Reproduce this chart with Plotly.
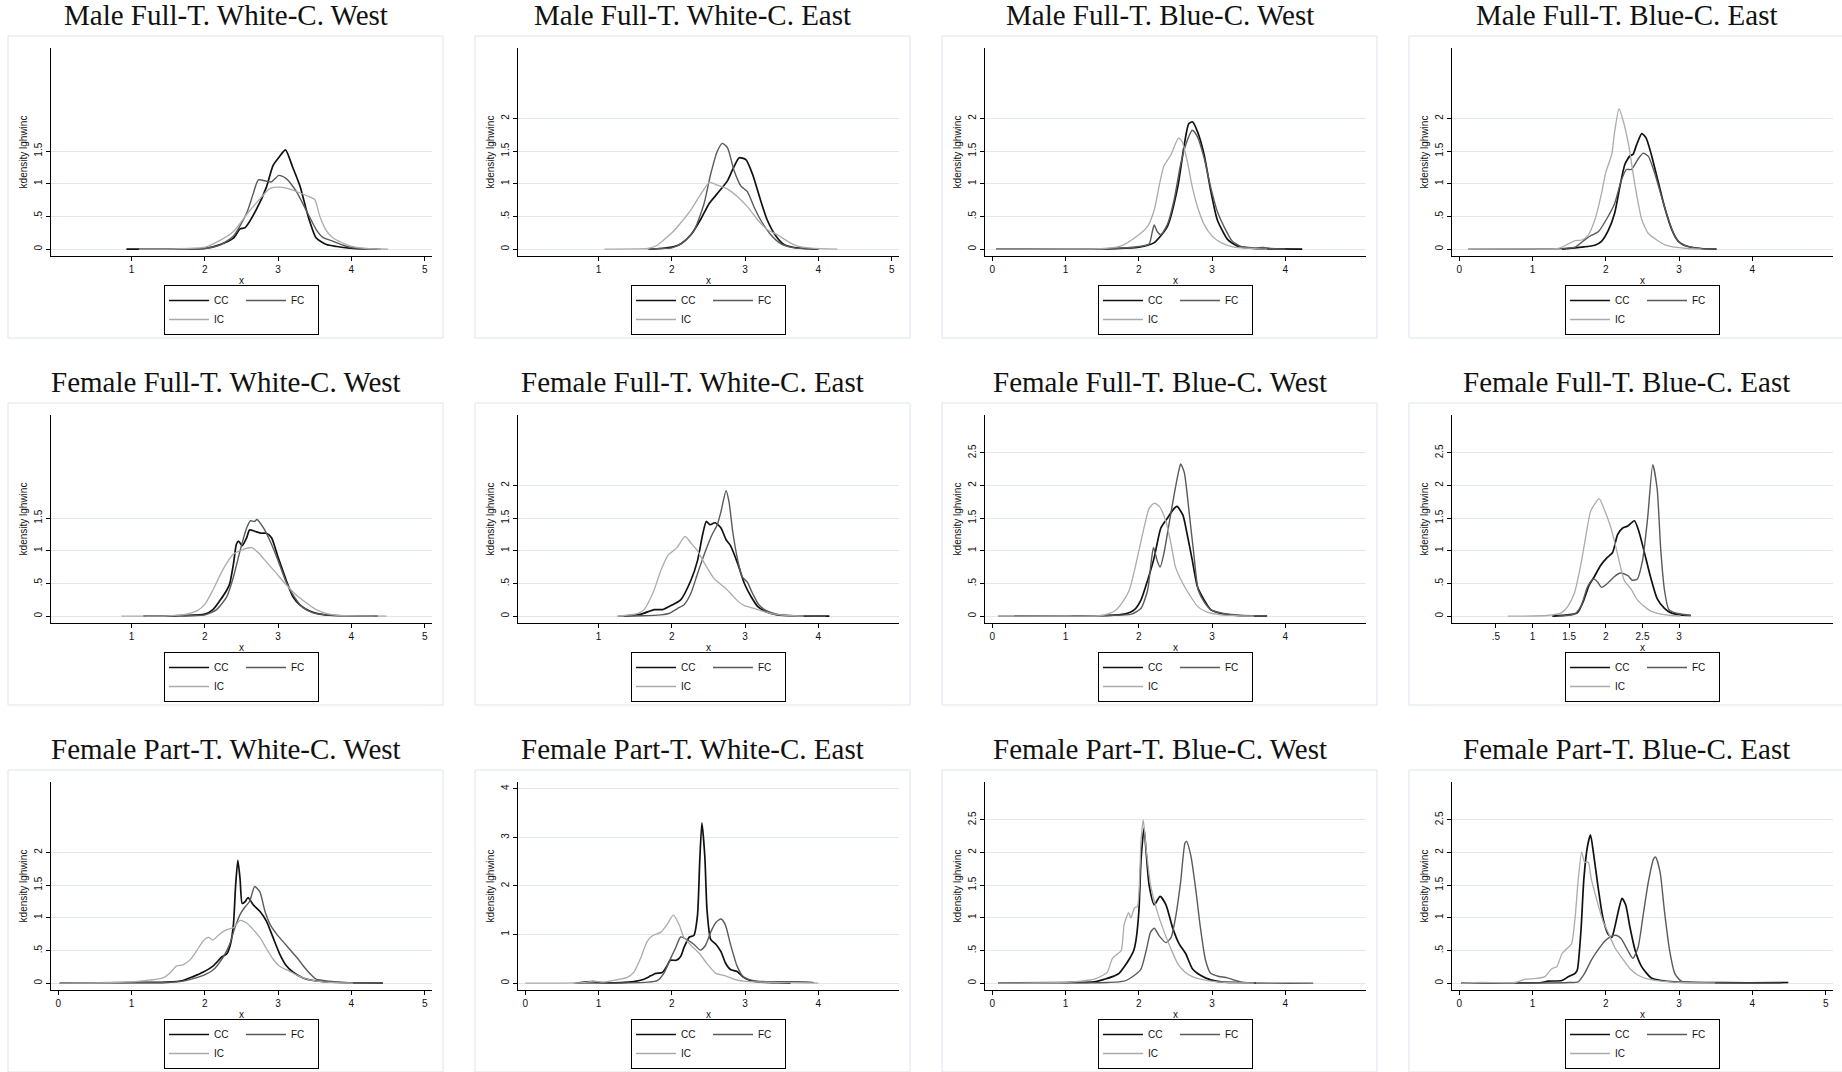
import plotly.graph_objects as go

# ---------------- data ----------------
titles = ["Male Full-T. White-C. West", "Male Full-T. White-C. East",
          "Male Full-T. Blue-C. West", "Male Full-T. Blue-C. East",
          "Female Full-T. White-C. West", "Female Full-T. White-C. East",
          "Female Full-T. Blue-C. West", "Female Full-T. Blue-C. East",
          "Female Part-T. White-C. West", "Female Part-T. White-C. East",
          "Female Part-T. Blue-C. West", "Female Part-T. Blue-C. East"]
series_names = ["CC", "FC", "IC"]

x_ticks = [[1, 2, 3, 4, 5], [1, 2, 3, 4, 5], [0, 1, 2, 3, 4], [0, 1, 2, 3, 4],
           [1, 2, 3, 4, 5], [1, 2, 3, 4], [0, 1, 2, 3, 4], [0.5, 1, 1.5, 2, 2.5, 3],
           [0, 1, 2, 3, 4, 5], [0, 1, 2, 3, 4], [0, 1, 2, 3, 4], [0, 1, 2, 3, 4, 5]]
y_ticks = [[0, 0.5, 1, 1.5], [0, 0.5, 1, 1.5, 2], [0, 0.5, 1, 1.5, 2], [0, 0.5, 1, 1.5, 2],
           [0, 0.5, 1, 1.5], [0, 0.5, 1, 1.5, 2], [0, 0.5, 1, 1.5, 2, 2.5], [0, 0.5, 1, 1.5, 2, 2.5],
           [0, 0.5, 1, 1.5, 2], [0, 1, 2, 3, 4], [0, 0.5, 1, 1.5, 2, 2.5], [0, 0.5, 1, 1.5, 2, 2.5]]
y_max = [3.08, 3.08, 3.08, 3.08, 3.08, 3.08, 3.08, 3.08, 3.08, 4.14, 3.08, 3.08]

# Panel 1
p1_cc_x = [0.93, 1.1, 1.5, 2.0, 2.2, 2.39, 2.48, 2.55, 2.7, 2.84, 2.93, 3.02, 3.1, 3.2, 3.3, 3.41, 3.52, 3.66, 3.8, 3.98, 4.2, 4.35]
p1_cc_y = [0, 0, 0.002, 0.01, 0.066, 0.17, 0.31, 0.33, 0.6, 0.95, 1.28, 1.42, 1.52, 1.25, 0.96, 0.5, 0.17, 0.07, 0.04, 0.015, 0.003, 0]
p1_fc_x = [1.1, 1.5, 2.0, 2.2, 2.39, 2.57, 2.66, 2.73, 2.84, 2.91, 3.01, 3.11, 3.25, 3.39, 3.52, 3.61, 3.75, 3.89, 4.02, 4.2, 4.4]
p1_fc_y = [0, 0.002, 0.01, 0.06, 0.2, 0.55, 0.85, 1.06, 1.04, 1.03, 1.13, 1.08, 0.88, 0.58, 0.3, 0.18, 0.12, 0.06, 0.02, 0.005, 0]
p1_ic_x = [1.1, 1.6, 2.0, 2.2, 2.39, 2.57, 2.75, 2.89, 3.02, 3.16, 3.3, 3.43, 3.5, 3.57, 3.66, 3.75, 3.98, 4.2, 4.5]
p1_ic_y = [0, 0.005, 0.03, 0.13, 0.27, 0.53, 0.77, 0.93, 0.95, 0.92, 0.86, 0.8, 0.76, 0.5, 0.28, 0.17, 0.05, 0.01, 0]

# Panel 2
p2_cc_x = [1.69, 1.85, 2.0, 2.12, 2.26, 2.4, 2.51, 2.62, 2.76, 2.83, 2.92, 3.01, 3.1, 3.21, 3.3, 3.42, 3.53, 3.67, 3.9, 4.0]
p2_cc_y = [0, 0.01, 0.03, 0.08, 0.22, 0.47, 0.7, 0.85, 1.05, 1.22, 1.4, 1.37, 1.15, 0.75, 0.45, 0.2, 0.07, 0.025, 0.005, 0]
p2_fc_x = [1.67, 1.85, 2.0, 2.15, 2.3, 2.44, 2.53, 2.62, 2.69, 2.76, 2.85, 2.94, 3.03, 3.12, 3.21, 3.35, 3.49, 3.67, 4.0]
p2_fc_y = [0, 0.01, 0.02, 0.1, 0.28, 0.7, 1.15, 1.5, 1.62, 1.55, 1.2, 0.97, 0.88, 0.65, 0.45, 0.22, 0.08, 0.02, 0]
p2_ic_x = [1.08, 1.5, 1.67, 1.8, 1.9, 2.0, 2.12, 2.26, 2.4, 2.51, 2.62, 2.76, 2.9, 3.03, 3.17, 3.3, 3.44, 3.58, 3.71, 3.9, 4.26]
p2_ic_y = [0, 0.003, 0.01, 0.06, 0.15, 0.25, 0.4, 0.6, 0.85, 1.02, 0.98, 0.92, 0.8, 0.65, 0.45, 0.3, 0.22, 0.12, 0.05, 0.015, 0]

# Panel 3
p3_cc_x = [0.05, 1.0, 1.57, 2.0, 2.21, 2.39, 2.53, 2.62, 2.68, 2.73, 2.8, 2.89, 2.98, 3.07, 3.21, 3.34, 3.57, 3.8, 4.23]
p3_cc_y = [0, 0, 0.005, 0.03, 0.1, 0.35, 0.95, 1.6, 1.92, 1.95, 1.8, 1.45, 0.9, 0.45, 0.15, 0.05, 0.01, 0.003, 0]
p3_fc_x = [0.05, 1.0, 1.57, 2.0, 2.14, 2.18, 2.21, 2.25, 2.3, 2.39, 2.48, 2.57, 2.64, 2.73, 2.8, 2.89, 2.98, 3.07, 3.16, 3.27, 3.39, 3.57, 3.7, 3.8, 4.0]
p3_fc_y = [0, 0, 0.005, 0.04, 0.08, 0.25, 0.37, 0.27, 0.22, 0.38, 0.75, 1.3, 1.6, 1.82, 1.72, 1.4, 0.95, 0.58, 0.35, 0.13, 0.04, 0.02, 0.025, 0.01, 0]
p3_ic_x = [0.05, 1.0, 1.53, 1.76, 1.94, 2.12, 2.21, 2.27, 2.34, 2.44, 2.54, 2.59, 2.66, 2.73, 2.8, 2.89, 3.0, 3.12, 3.3, 3.75]
p3_ic_y = [0, 0.002, 0.01, 0.05, 0.17, 0.35, 0.6, 0.93, 1.27, 1.45, 1.7, 1.65, 1.35, 0.95, 0.65, 0.38, 0.2, 0.1, 0.03, 0]

# Panel 4
p4_cc_x = [1.4, 1.67, 1.85, 1.94, 2.03, 2.12, 2.19, 2.26, 2.33, 2.37, 2.42, 2.49, 2.55, 2.62, 2.71, 2.8, 2.9, 2.99, 3.12, 3.3, 3.51]
p4_cc_y = [0, 0.03, 0.06, 0.12, 0.28, 0.55, 0.95, 1.3, 1.43, 1.45, 1.6, 1.77, 1.7, 1.45, 1.05, 0.65, 0.3, 0.12, 0.04, 0.01, 0]
p4_fc_x = [0.12, 1.0, 1.4, 1.58, 1.72, 1.8, 1.9, 2.03, 2.12, 2.21, 2.28, 2.35, 2.44, 2.51, 2.58, 2.67, 2.76, 2.85, 2.94, 3.03, 3.21, 3.51]
p4_fc_y = [0, 0.002, 0.01, 0.03, 0.15, 0.21, 0.27, 0.5, 0.7, 1.05, 1.22, 1.22, 1.38, 1.47, 1.42, 1.15, 0.8, 0.47, 0.2, 0.08, 0.02, 0]
p4_ic_x = [0.12, 0.76, 1.35, 1.49, 1.58, 1.67, 1.76, 1.85, 1.94, 2.0, 2.08, 2.12, 2.18, 2.24, 2.31, 2.4, 2.49, 2.58, 2.67, 2.8, 2.94, 3.12, 3.3]
p4_ic_y = [0, 0.005, 0.01, 0.08, 0.13, 0.14, 0.22, 0.45, 0.85, 1.18, 1.45, 1.8, 2.15, 1.95, 1.6, 0.96, 0.45, 0.24, 0.16, 0.07, 0.03, 0.01, 0]

# Panel 5
p5_cc_x = [1.16, 1.6, 2.0, 2.11, 2.2, 2.3, 2.34, 2.39, 2.43, 2.46, 2.51, 2.57, 2.61, 2.68, 2.77, 2.84, 2.91, 3.0, 3.11, 3.2, 3.3, 3.43, 3.57, 3.75, 4.0, 4.36]
p5_cc_y = [0, 0.005, 0.03, 0.1, 0.23, 0.4, 0.5, 0.8, 1.1, 1.15, 1.08, 1.2, 1.32, 1.3, 1.27, 1.27, 1.2, 0.9, 0.55, 0.3, 0.17, 0.08, 0.03, 0.01, 0.003, 0]
p5_fc_x = [1.2, 1.6, 2.0, 2.16, 2.3, 2.39, 2.48, 2.57, 2.62, 2.68, 2.71, 2.8, 2.89, 3.0, 3.11, 3.23, 3.34, 3.48, 3.66, 4.0, 4.3]
p5_fc_y = [0, 0.005, 0.02, 0.1, 0.3, 0.6, 1.0, 1.35, 1.46, 1.45, 1.48, 1.35, 1.15, 0.85, 0.52, 0.28, 0.13, 0.05, 0.02, 0.005, 0]
p5_ic_x = [0.86, 1.5, 1.75, 1.89, 2.0, 2.11, 2.25, 2.39, 2.52, 2.64, 2.73, 2.84, 2.98, 3.11, 3.25, 3.39, 3.52, 3.66, 3.84, 4.1, 4.48]
p5_ic_y = [0, 0.005, 0.03, 0.08, 0.18, 0.4, 0.72, 0.95, 1.02, 1.05, 0.97, 0.83, 0.65, 0.48, 0.32, 0.2, 0.1, 0.04, 0.01, 0.003, 0]

# Panel 6
p6_cc_x = [1.35, 1.58, 1.76, 1.87, 2.0, 2.12, 2.26, 2.35, 2.42, 2.47, 2.52, 2.59, 2.67, 2.74, 2.8, 2.9, 2.99, 3.08, 3.17, 3.3, 3.44, 3.67, 4.15]
p6_cc_y = [0, 0.03, 0.1, 0.1, 0.17, 0.25, 0.55, 0.85, 1.25, 1.45, 1.4, 1.43, 1.35, 1.17, 1.08, 0.8, 0.5, 0.3, 0.15, 0.06, 0.02, 0.005, 0]
p6_fc_x = [1.26, 1.6, 1.85, 1.96, 2.08, 2.17, 2.26, 2.35, 2.46, 2.55, 2.62, 2.67, 2.74, 2.78, 2.83, 2.9, 2.96, 3.03, 3.1, 3.19, 3.3, 3.49, 4.1]
p6_fc_y = [0, 0.005, 0.02, 0.04, 0.12, 0.18, 0.35, 0.65, 1.0, 1.25, 1.4, 1.6, 1.92, 1.75, 1.3, 0.85, 0.6, 0.52, 0.35, 0.17, 0.08, 0.02, 0]
p6_ic_x = [1.26, 1.53, 1.62, 1.74, 1.85, 1.94, 2.07, 2.18, 2.26, 2.35, 2.46, 2.58, 2.71, 2.8, 2.9, 2.99, 3.12, 3.26, 3.4, 3.58, 3.8]
p6_ic_y = [0, 0.04, 0.1, 0.35, 0.7, 0.92, 1.05, 1.22, 1.12, 1.0, 0.78, 0.57, 0.45, 0.35, 0.23, 0.16, 0.12, 0.07, 0.03, 0.01, 0]

# Panel 7
p7_cc_x = [0.3, 1.0, 1.57, 1.8, 1.94, 2.03, 2.12, 2.21, 2.3, 2.39, 2.46, 2.52, 2.6, 2.66, 2.73, 2.8, 2.89, 2.98, 3.12, 3.34, 3.75]
p7_cc_y = [0, 0.003, 0.01, 0.03, 0.1, 0.25, 0.55, 0.9, 1.35, 1.5, 1.62, 1.68, 1.55, 1.25, 0.85, 0.45, 0.25, 0.1, 0.04, 0.01, 0]
p7_fc_x = [0.08, 1.0, 1.6, 1.9, 2.03, 2.12, 2.17, 2.2, 2.25, 2.29, 2.34, 2.41, 2.48, 2.54, 2.57, 2.62, 2.69, 2.75, 2.81, 2.89, 2.98, 3.12, 3.34, 3.75]
p7_fc_y = [0, 0.002, 0.01, 0.03, 0.12, 0.4, 0.85, 1.05, 0.85, 0.75, 0.95, 1.4, 1.85, 2.2, 2.33, 2.2, 1.55, 0.95, 0.4, 0.22, 0.1, 0.05, 0.02, 0]
p7_ic_x = [0.08, 1.0, 1.49, 1.67, 1.78, 1.87, 1.94, 2.01, 2.08, 2.14, 2.21, 2.28, 2.37, 2.44, 2.5, 2.6, 2.69, 2.8, 2.93, 3.12, 3.57]
p7_ic_y = [0, 0.002, 0.01, 0.08, 0.22, 0.4, 0.7, 1.05, 1.4, 1.65, 1.73, 1.68, 1.45, 1.1, 0.75, 0.5, 0.33, 0.15, 0.06, 0.02, 0]

# Panel 8
p8_cc_x = [1.27, 1.48, 1.61, 1.7, 1.77, 1.84, 1.93, 2.02, 2.09, 2.16, 2.23, 2.3, 2.39, 2.45, 2.52, 2.61, 2.7, 2.8, 2.89, 3.02, 3.16]
p8_cc_y = [0, 0.02, 0.05, 0.25, 0.47, 0.6, 0.78, 0.9, 0.97, 1.25, 1.35, 1.38, 1.46, 1.3, 1.0, 0.6, 0.27, 0.12, 0.05, 0.02, 0.01]
p8_fc_x = [1.34, 1.57, 1.66, 1.75, 1.83, 1.89, 1.94, 2.02, 2.11, 2.2, 2.3, 2.36, 2.43, 2.5, 2.57, 2.64, 2.7, 2.75, 2.8, 2.86, 2.98, 3.16]
p8_fc_y = [0, 0.03, 0.15, 0.45, 0.57, 0.52, 0.44, 0.5, 0.6, 0.66, 0.62, 0.55, 0.57, 0.85, 1.5, 2.32, 1.95, 1.0, 0.4, 0.1, 0.04, 0.01]
p8_ic_x = [0.66, 1.2, 1.39, 1.48, 1.57, 1.66, 1.73, 1.79, 1.85, 1.91, 1.98, 2.07, 2.16, 2.25, 2.34, 2.43, 2.52, 2.61, 2.75, 2.89, 3.02]
p8_ic_y = [0, 0.01, 0.05, 0.15, 0.35, 0.8, 1.25, 1.6, 1.72, 1.8, 1.63, 1.35, 0.95, 0.55, 0.42, 0.25, 0.15, 0.08, 0.03, 0.01, 0]

# Panel 9
p9_cc_x = [0.02, 1.02, 1.48, 1.7, 1.84, 1.98, 2.11, 2.23, 2.3, 2.35, 2.39, 2.42, 2.45, 2.48, 2.51, 2.55, 2.59, 2.66, 2.75, 2.84, 2.93, 3.02, 3.11, 3.2, 3.34, 3.48, 3.66, 3.84, 4.43]
p9_cc_y = [0, 0.01, 0.015, 0.04, 0.1, 0.17, 0.26, 0.4, 0.45, 0.6, 0.9, 1.5, 1.88, 1.6, 1.22, 1.25, 1.31, 1.2, 1.1, 0.95, 0.7, 0.45, 0.27, 0.17, 0.08, 0.04, 0.02, 0.01, 0]
p9_fc_x = [0.02, 1.0, 1.5, 1.7, 1.84, 1.98, 2.11, 2.25, 2.34, 2.41, 2.48, 2.55, 2.61, 2.68, 2.75, 2.82, 2.89, 2.98, 3.11, 3.25, 3.39, 3.52, 3.7, 3.89, 4.43]
p9_fc_y = [0, 0.005, 0.01, 0.03, 0.07, 0.12, 0.2, 0.4, 0.6, 0.85, 1.05, 1.17, 1.25, 1.48, 1.4, 1.1, 0.9, 0.75, 0.58, 0.4, 0.2, 0.06, 0.03, 0.01, 0]
p9_ic_x = [0.02, 0.8, 1.11, 1.43, 1.52, 1.61, 1.7, 1.8, 1.89, 1.98, 2.05, 2.11, 2.2, 2.3, 2.39, 2.48, 2.57, 2.66, 2.75, 2.84, 2.93, 3.02, 3.16, 3.3, 3.43, 3.61, 4.02]
p9_ic_y = [0, 0.01, 0.03, 0.08, 0.15, 0.26, 0.28, 0.36, 0.5, 0.65, 0.7, 0.66, 0.75, 0.82, 0.85, 0.96, 0.92, 0.82, 0.7, 0.53, 0.37, 0.26, 0.18, 0.1, 0.05, 0.02, 0]

# Panel 10
p10_cc_x = [0.7, 0.93, 1.03, 1.3, 1.48, 1.62, 1.71, 1.78, 1.87, 1.92, 1.98, 2.06, 2.12, 2.17, 2.24, 2.3, 2.35, 2.38, 2.41, 2.45, 2.48, 2.53, 2.6, 2.67, 2.73, 2.8, 2.89, 2.98, 3.08, 3.21, 3.44, 3.62]
p10_cc_y = [0, 0.03, 0.01, 0.01, 0.03, 0.08, 0.15, 0.2, 0.22, 0.32, 0.47, 0.47, 0.55, 0.75, 0.95, 0.98, 1.4, 2.5, 3.3, 2.6, 1.5, 0.9, 0.8, 0.65, 0.42, 0.28, 0.24, 0.12, 0.05, 0.02, 0.01, 0]
p10_fc_x = [0.66, 1.39, 1.67, 1.8, 1.89, 1.98, 2.05, 2.12, 2.2, 2.3, 2.39, 2.46, 2.53, 2.6, 2.67, 2.73, 2.8, 2.89, 2.98, 3.12, 3.3, 3.53, 3.71, 3.9, 3.94]
p10_fc_y = [0, 0.005, 0.02, 0.05, 0.2, 0.5, 0.72, 0.95, 0.9, 0.8, 0.68, 0.78, 1.05, 1.25, 1.32, 1.2, 0.8, 0.35, 0.12, 0.05, 0.03, 0.03, 0.03, 0.02, 0.01]
p10_ic_x = [0.0, 0.8, 0.93, 1.07, 1.25, 1.39, 1.48, 1.57, 1.66, 1.73, 1.85, 1.94, 2.02, 2.1, 2.16, 2.26, 2.37, 2.48, 2.6, 2.71, 2.85, 2.98, 3.21, 3.49, 4.0]
p10_ic_y = [0, 0.01, 0.04, 0.02, 0.07, 0.12, 0.22, 0.5, 0.85, 0.97, 1.05, 1.22, 1.4, 1.2, 0.95, 0.78, 0.62, 0.4, 0.2, 0.16, 0.08, 0.04, 0.02, 0.01, 0]

# Panel 11
p11_cc_x = [0.08, 0.98, 1.39, 1.53, 1.64, 1.73, 1.8, 1.87, 1.93, 1.96, 2.0, 2.03, 2.07, 2.1, 2.14, 2.21, 2.29, 2.37, 2.46, 2.55, 2.64, 2.73, 2.84, 2.98, 3.12, 3.34, 3.6]
p11_cc_y = [0, 0.01, 0.02, 0.06, 0.1, 0.15, 0.25, 0.37, 0.5, 0.65, 1.1, 1.9, 2.37, 2.0, 1.5, 1.2, 1.33, 1.2, 0.85, 0.6, 0.45, 0.22, 0.12, 0.05, 0.02, 0.01, 0]
p11_fc_x = [0.08, 1.0, 1.57, 1.8, 1.94, 2.03, 2.1, 2.16, 2.21, 2.28, 2.37, 2.44, 2.5, 2.57, 2.63, 2.65, 2.71, 2.78, 2.84, 2.91, 2.98, 3.07, 3.21, 3.32, 3.43, 4.38]
p11_fc_y = [0, 0.003, 0.01, 0.03, 0.12, 0.22, 0.5, 0.78, 0.84, 0.72, 0.62, 0.7, 1.0, 1.55, 2.15, 2.17, 1.95, 1.4, 0.85, 0.35, 0.15, 0.11, 0.08, 0.04, 0.01, 0]
p11_ic_x = [0.08, 0.98, 1.21, 1.39, 1.51, 1.57, 1.64, 1.71, 1.76, 1.8, 1.86, 1.89, 1.94, 1.98, 2.03, 2.06, 2.1, 2.16, 2.25, 2.34, 2.44, 2.53, 2.62, 2.73, 2.84, 2.98, 3.21, 3.57]
p11_ic_y = [0, 0.01, 0.03, 0.06, 0.12, 0.17, 0.38, 0.45, 0.5, 0.9, 1.08, 1.0, 1.15, 1.17, 2.2, 2.5, 2.05, 1.5, 1.1, 0.8, 0.52, 0.3, 0.18, 0.1, 0.06, 0.03, 0.01, 0]

# Panel 12
p12_cc_x = [0.03, 1.12, 1.21, 1.4, 1.49, 1.58, 1.61, 1.66, 1.7, 1.75, 1.79, 1.83, 1.89, 1.96, 2.03, 2.08, 2.12, 2.18, 2.22, 2.27, 2.33, 2.4, 2.49, 2.62, 2.76, 2.94, 3.26, 3.94, 4.49]
p12_cc_y = [0, 0.01, 0.03, 0.04, 0.1, 0.15, 0.2, 0.8, 1.6, 2.1, 2.27, 2.0, 1.5, 1.0, 0.75, 0.7, 0.85, 1.15, 1.3, 1.2, 0.85, 0.5, 0.25, 0.08, 0.04, 0.02, 0.01, 0.005, 0.01]
p12_fc_x = [0.03, 1.2, 1.49, 1.62, 1.71, 1.8, 1.9, 1.99, 2.08, 2.15, 2.21, 2.3, 2.37, 2.44, 2.51, 2.58, 2.65, 2.68, 2.74, 2.8, 2.87, 2.94, 3.03, 3.26, 4.4]
p12_fc_y = [0, 0.003, 0.01, 0.02, 0.15, 0.35, 0.52, 0.65, 0.72, 0.73, 0.68, 0.5, 0.38, 0.55, 1.05, 1.55, 1.9, 1.93, 1.7, 1.1, 0.5, 0.15, 0.03, 0.01, 0]
p12_ic_x = [0.03, 0.3, 0.76, 0.9, 1.03, 1.17, 1.26, 1.33, 1.4, 1.46, 1.53, 1.58, 1.62, 1.67, 1.71, 1.76, 1.8, 1.87, 1.96, 2.03, 2.12, 2.21, 2.33, 2.44, 2.58, 2.76, 3.03, 3.49]
p12_ic_y = [0, 0.01, 0.01, 0.06, 0.07, 0.1, 0.22, 0.25, 0.45, 0.52, 0.6, 1.0, 1.55, 2.01, 1.85, 1.85, 1.6, 1.3, 0.95, 0.78, 0.55, 0.4, 0.22, 0.12, 0.06, 0.03, 0.01, 0]

panels = [
    ((p1_cc_x, p1_cc_y), (p1_fc_x, p1_fc_y), (p1_ic_x, p1_ic_y)),
    ((p2_cc_x, p2_cc_y), (p2_fc_x, p2_fc_y), (p2_ic_x, p2_ic_y)),
    ((p3_cc_x, p3_cc_y), (p3_fc_x, p3_fc_y), (p3_ic_x, p3_ic_y)),
    ((p4_cc_x, p4_cc_y), (p4_fc_x, p4_fc_y), (p4_ic_x, p4_ic_y)),
    ((p5_cc_x, p5_cc_y), (p5_fc_x, p5_fc_y), (p5_ic_x, p5_ic_y)),
    ((p6_cc_x, p6_cc_y), (p6_fc_x, p6_fc_y), (p6_ic_x, p6_ic_y)),
    ((p7_cc_x, p7_cc_y), (p7_fc_x, p7_fc_y), (p7_ic_x, p7_ic_y)),
    ((p8_cc_x, p8_cc_y), (p8_fc_x, p8_fc_y), (p8_ic_x, p8_ic_y)),
    ((p9_cc_x, p9_cc_y), (p9_fc_x, p9_fc_y), (p9_ic_x, p9_ic_y)),
    ((p10_cc_x, p10_cc_y), (p10_fc_x, p10_fc_y), (p10_ic_x, p10_ic_y)),
    ((p11_cc_x, p11_cc_y), (p11_fc_x, p11_fc_y), (p11_ic_x, p11_ic_y)),
    ((p12_cc_x, p12_cc_y), (p12_fc_x, p12_fc_y), (p12_ic_x, p12_ic_y)),
]

# ---------------- styling / layout ----------------
W, H = 1842, 1072
COL_PITCH = 467
ROW_TOPS = [48, 415, 782]
PLOT_W, PLOT_H = 381, 208
LEFT0 = 51
line_colors = {"CC": "#111111", "FC": "#5a5a5a", "IC": "#ababab"}
line_widths = {"CC": 1.7, "FC": 1.4, "IC": 1.3}
groups = {"CC": "g1", "IC": "g1", "FC": "g2"}
GRID = "#e1e7f0"
BOX = "#dde3ec"
SANS = "Liberation Sans, Arial, sans-serif"
SERIF = "Liberation Serif, Times New Roman, serif"


def fmt(v):
    s = f"{v:g}"
    return s[1:] if s.startswith("0.") else s


fig = go.Figure()
layout = dict(width=W, height=H, margin=dict(l=0, r=0, t=0, b=0),
              paper_bgcolor="white", plot_bgcolor="white", showlegend=True)
shapes, annotations = [], []

for i in range(12):
    r, c = divmod(i, 4)
    L = LEFT0 + COL_PITCH * c
    T = ROW_TOPS[r]
    k = "" if i == 0 else str(i + 1)
    leg = "legend" if i == 0 else f"legend{i + 1}"
    for name, (xs, ys) in zip(series_names, panels[i]):
        fig.add_trace(go.Scatter(
            x=xs, y=ys, mode="lines", name=name,
            line=dict(color=line_colors[name], width=line_widths[name],
                      shape="spline", smoothing=0.6),
            xaxis="x" + k, yaxis="y" + k, legend=leg, legendgroup=groups[name] + "_" + str(i),
            showlegend=True, hoverinfo="skip"))
    layout["xaxis" + k] = dict(
        domain=[L / W, (L + PLOT_W) / W], anchor="y" + k, range=[-0.1, 5.1],
        tickvals=x_ticks[i], ticktext=[fmt(v) for v in x_ticks[i]],
        showline=True, linecolor="black", linewidth=1, ticks="outside", ticklen=4,
        tickcolor="black", showgrid=False, zeroline=False,
        tickfont=dict(family=SANS, size=10, color="#111"),
        title=dict(text="x", font=dict(family=SANS, size=10, color="#111"), standoff=2))
    layout["yaxis" + k] = dict(
        domain=[1 - (T + PLOT_H) / H, 1 - T / H], anchor="x" + k,
        range=[-0.105 * y_max[i] / 3.08, y_max[i]],
        tickvals=y_ticks[i], ticktext=[fmt(v) for v in y_ticks[i]], tickangle=-90,
        showline=True, linecolor="black", linewidth=1, ticks="outside", ticklen=4,
        tickcolor="black", showgrid=True, gridcolor=GRID, gridwidth=1, zeroline=False,
        tickfont=dict(family=SANS, size=10, color="#111"),
        title=dict(text="kdensity lghwinc", font=dict(family=SANS, size=10, color="#111"),
                   standoff=3))
    layout[leg] = dict(
        x=(L + PLOT_W / 2) / W, xanchor="center", y=1 - (T + 237) / H, yanchor="top",
        orientation="h", traceorder="grouped", bordercolor="black", borderwidth=1,
        bgcolor="white", font=dict(family=SANS, size=10, color="#111"),
        tracegroupgap=0, itemwidth=40, entrywidth=22)
    shapes.append(dict(type="rect", xref="paper", yref="paper",
                       x0=(L - 43) / W, x1=(L + 392) / W,
                       y0=1 - (T + 290) / H, y1=1 - (T - 12) / H,
                       line=dict(color=BOX, width=1), fillcolor="rgba(0,0,0,0)", layer="below"))
    annotations.append(dict(text=titles[i], xref="paper", yref="paper",
                            x=(L + 174.5) / W, y=1 - (T - 33) / H, xanchor="center",
                            yanchor="middle", showarrow=False,
                            font=dict(family=SERIF, size=29, color="#111")))

layout["shapes"] = shapes
layout["annotations"] = annotations
fig.update_layout(**layout)
# remove the default 8px page margin so the figure fills the window exactly
fig.write_html("out.html", config={"displayModeBar": False},
               post_script="document.body.style.margin='0';document.body.style.overflow='hidden';")
